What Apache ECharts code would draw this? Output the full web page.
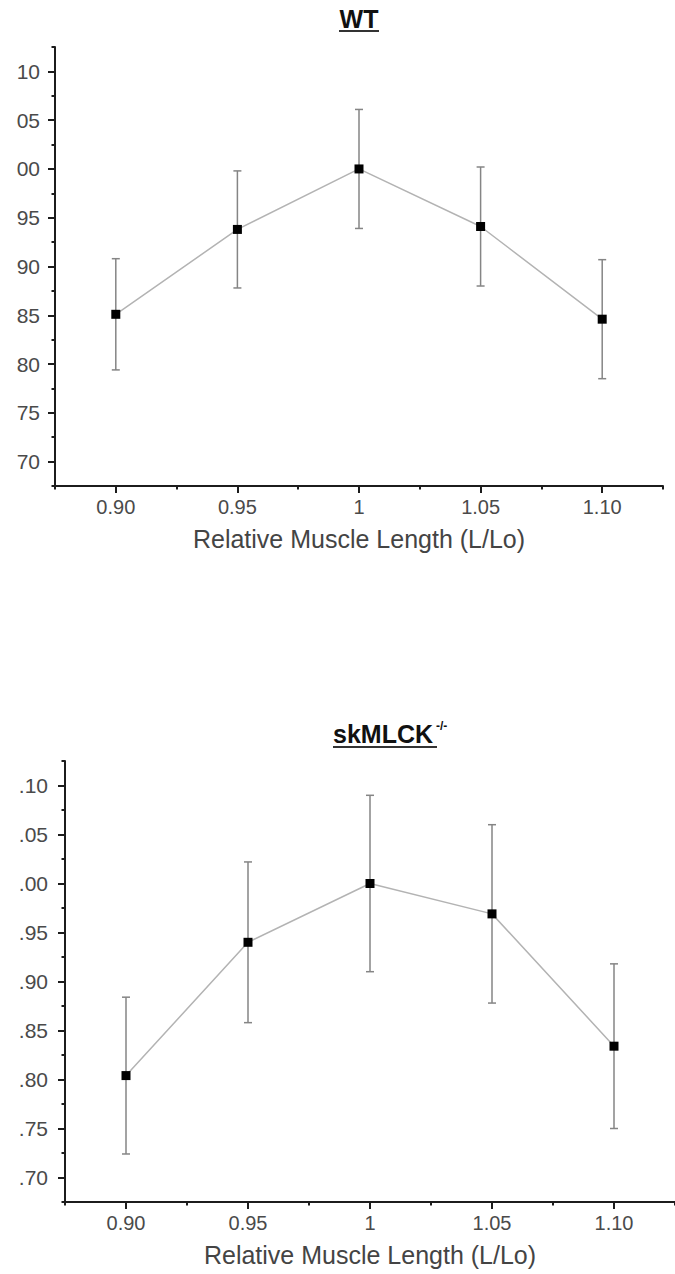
<!DOCTYPE html>
<html>
<head>
<meta charset="utf-8">
<title>Length-tension</title>
<script src="https://cdn.jsdelivr.net/npm/echarts@6/dist/echarts.min.js"></script>
<style>
html,body{margin:0;padding:0;background:#fff;}
#main{width:675px;height:1274px;}
</style>
</head>
<body>
<div id="main"></div>
<script>
// relative muscle length (L/Lo)
var lengths = [0.90, 0.95, 1.00, 1.05, 1.10];
// WT: normalised force, mean and error
var wtMean = [0.851, 0.938, 1.000, 0.941, 0.846];
var wtErr  = [0.057, 0.060, 0.061, 0.061, 0.061];
// skMLCK-/-
var koMean = [0.804, 0.940, 1.000, 0.969, 0.834];
var koErr  = [0.080, 0.082, 0.090, 0.091, 0.084];

var xTicks = [0.90, 0.95, 1.00, 1.05, 1.10];
var xTickLabels = ['0.90', '0.95', '1', '1.05', '1.10'];
var xMinor = [0.875, 0.925, 0.975, 1.025, 1.075, 1.125];
var yTicks = [0.70, 0.75, 0.80, 0.85, 0.90, 0.95, 1.00, 1.05, 1.10];
var yMinor = [0.675, 0.725, 0.775, 0.825, 0.875, 0.925, 0.975, 1.025, 1.075, 1.125];
// left part of these labels is cut off in the figure
var wtYLabels = ['70', '75', '80', '85', '90', '95', '00', '05', '10'];
var koYLabels = ['.70', '.75', '.80', '.85', '.90', '.95', '.00', '.05', '.10'];

var FONT = "'Liberation Sans', Arial, sans-serif";
var AXIS = '#1c1c1c';

function idx(arr, v){
  for (var i = 0; i < arr.length; i++) {
    if (Math.abs(arr[i] - v) < 1e-6) return i;
  }
  return -1;
}

function xAxes(g){
  return [{
    type: 'value', gridIndex: g, position: 'bottom', min: 0.875, max: 1.125,
    axisLine: {lineStyle: {color: AXIS, width: 2}},
    axisTick: {customValues: xTicks, length: 7, lineStyle: {color: AXIS, width: 2}},
    axisLabel: {customValues: xTicks, margin: 11, fontSize: 20, color: '#4a4a4a', fontFamily: FONT,
      formatter: function(v){ return xTickLabels[idx(xTicks, v)]; }},
    splitLine: {show: false},
    name: 'Relative Muscle Length (L/Lo)', nameLocation: 'middle', nameGap: 40,
    nameTextStyle: {fontSize: 25, color: '#444', fontFamily: FONT}
  }, {
    type: 'value', gridIndex: g, position: 'bottom', min: 0.875, max: 1.125,
    axisLine: {show: false},
    axisTick: {customValues: xMinor, length: 3.5, lineStyle: {color: AXIS, width: 2}},
    axisLabel: {show: false},
    splitLine: {show: false}
  }];
}

function yAxes(g, labels, margin){
  return [{
    type: 'value', gridIndex: g, position: 'left', min: 0.675, max: 1.125,
    axisLine: {show: true, lineStyle: {color: AXIS, width: 2}},
    axisTick: {show: true, customValues: yTicks, length: 7, lineStyle: {color: AXIS, width: 2}},
    axisLabel: {customValues: yTicks, margin: margin, fontSize: 21, color: '#4a4a4a', fontFamily: FONT,
      formatter: function(v){ return labels[idx(yTicks, v)]; }},
    splitLine: {show: false}
  }, {
    type: 'value', gridIndex: g, position: 'left', min: 0.675, max: 1.125,
    axisLine: {show: false},
    axisTick: {show: true, customValues: yMinor, length: 3.5, lineStyle: {color: AXIS, width: 2}},
    axisLabel: {show: false},
    splitLine: {show: false}
  }];
}

function errData(mean, err){
  return lengths.map(function(x, i){ return [x, mean[i] - err[i], mean[i] + err[i]]; });
}

function errorBars(g, mean, err){
  return {
    type: 'custom', xAxisIndex: g * 2, yAxisIndex: g * 2, z: 2,
    data: errData(mean, err),
    encode: {x: 0, y: [1, 2]},
    renderItem: function(params, api){
      var x = api.value(0);
      var lo = api.coord([x, api.value(1)]);
      var hi = api.coord([x, api.value(2)]);
      var w = 4;
      var st = {stroke: '#858585', lineWidth: 1.5};
      return {type: 'group', children: [
        {type: 'line', shape: {x1: hi[0], y1: hi[1], x2: lo[0], y2: lo[1]}, style: st},
        {type: 'line', shape: {x1: hi[0] - w, y1: hi[1], x2: hi[0] + w, y2: hi[1]}, style: st},
        {type: 'line', shape: {x1: lo[0] - w, y1: lo[1], x2: lo[0] + w, y2: lo[1]}, style: st}
      ]};
    }
  };
}

function meanLine(g, mean){
  return {
    type: 'line', xAxisIndex: g * 2, yAxisIndex: g * 2, z: 3,
    data: lengths.map(function(x, i){ return [x, mean[i]]; }),
    symbol: 'rect', symbolSize: 9,
    itemStyle: {color: '#000'},
    lineStyle: {color: '#b3b3b3', width: 1.5},
    animation: false
  };
}

var chart = echarts.init(document.getElementById('main'), null, {renderer: 'svg'});
chart.setOption({
  backgroundColor: '#fff',
  animation: false,
  grid: [
    {left: 55, top: 47, width: 608, height: 439},
    {left: 65, top: 761, width: 619, height: 441}
  ],
  xAxis: xAxes(0).concat(xAxes(1)),
  yAxis: yAxes(0, wtYLabels, 15).concat(yAxes(1, koYLabels, 17)),
  series: [
    errorBars(0, wtMean, wtErr),
    meanLine(0, wtMean),
    errorBars(1, koMean, koErr),
    meanLine(1, koMean)
  ],
  graphic: [
    {type: 'text', x: 359, y: 19, style: {text: 'WT', fill: '#111', fontSize: 25, fontWeight: 'bold',
      fontFamily: FONT, align: 'center', verticalAlign: 'middle'}},
    {type: 'line', shape: {x1: 339, y1: 31, x2: 379, y2: 31}, style: {stroke: '#333', lineWidth: 2}},
    {type: 'text', x: 333, y: 734, style: {text: 'skMLCK', fill: '#111', fontSize: 25, fontWeight: 'bold',
      fontFamily: FONT, align: 'left', verticalAlign: 'middle'}},
    {type: 'text', x: 436, y: 726, style: {text: '-/-', fill: '#111', fontSize: 12, fontWeight: 'bold',
      fontFamily: FONT, align: 'left', verticalAlign: 'middle'}},
    {type: 'line', shape: {x1: 333, y1: 747, x2: 437, y2: 747}, style: {stroke: '#333', lineWidth: 2}}
  ]
});
</script>
</body>
</html>
